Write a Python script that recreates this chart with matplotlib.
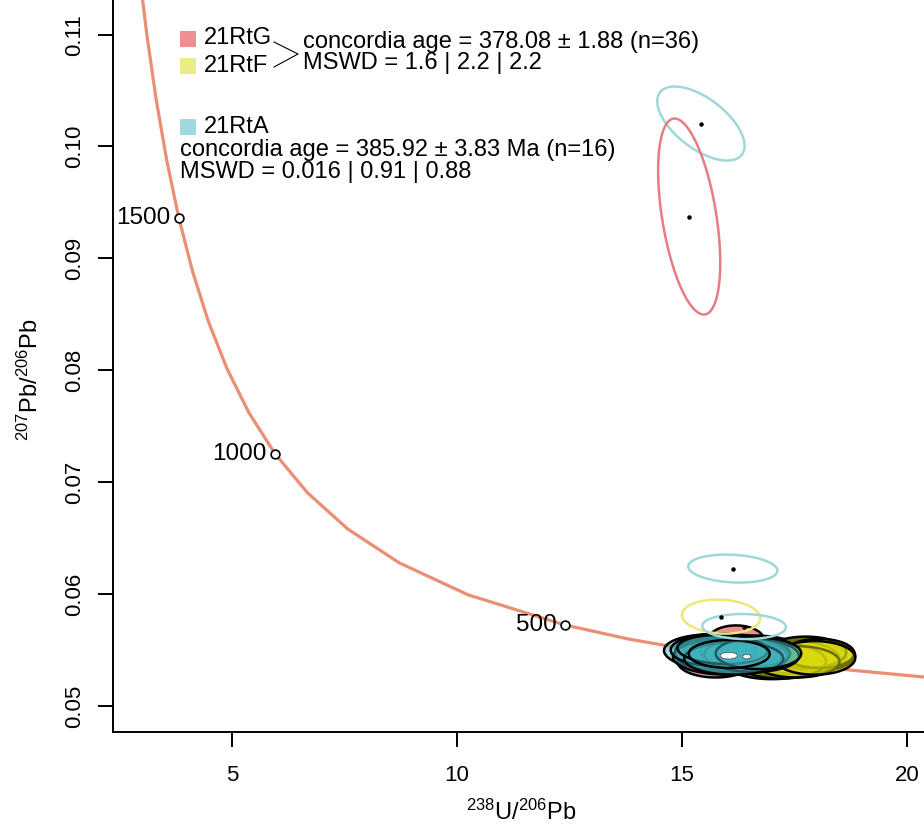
import numpy as np
import matplotlib
matplotlib.use("Agg")
import matplotlib.pyplot as plt
from matplotlib.patches import Rectangle
from matplotlib.lines import Line2D

plt.rcParams['font.family'] = ['Liberation Sans', 'DejaVu Sans']
plt.rcParams['mathtext.fontset'] = 'custom'
plt.rcParams['mathtext.rm'] = 'Liberation Sans'
plt.rcParams['mathtext.it'] = 'Liberation Sans:italic'

W, H = 924, 826

# concordia curve (Tera-Wasserburg)
conc_age = [300, 350, 400, 450, 500, 600, 700, 800, 900, 1000, 1100, 1200,
            1300, 1400, 1500, 1600, 1700, 1800, 1900]
conc_x = [20.99, 17.92, 15.62, 13.83, 12.40, 10.25, 8.718, 7.568, 6.674, 5.959,
          5.375, 4.888, 4.476, 4.123, 3.817, 3.550, 3.314, 3.105, 2.917]
conc_y = [0.05236, 0.05352, 0.05473, 0.05597, 0.05724, 0.05993, 0.06279, 0.06583,
          0.06907, 0.07253, 0.07622, 0.08016, 0.08436, 0.08885, 0.09364, 0.09876,
          0.10423, 0.11009, 0.11635]

tick_age = [500, 1000, 1500]
tick_x = [12.40, 5.959, 3.817]
tick_y = [0.05724, 0.07253, 0.09364]

# filled ellipses: centre x, centre y, half-width x, half-height y, rho
G_x = [16.20, 15.75, 16.00, 16.40, 16.80, 15.90, 17.10, 16.60]
G_y = [0.05590, 0.05400, 0.05460, 0.05440, 0.05410, 0.05490, 0.05430, 0.05480]
G_hx = [0.62, 0.85, 1.00, 1.00, 0.95, 1.05, 1.00, 1.10]
G_hy = [0.00130, 0.00145, 0.00155, 0.00145, 0.00145, 0.00160, 0.00145, 0.00150]
G_rho = [0.0, 0.0, -0.05, 0.0, 0.0, -0.05, 0.0, 0.0]

F_x = [17.00, 17.60, 17.85, 18.00, 17.40, 17.75, 17.20, 18.05, 17.55, 17.95]
F_y = [0.05370, 0.05440, 0.05460, 0.05450, 0.05420, 0.05480, 0.05400, 0.05470, 0.05395, 0.05430]
F_hx = [1.00, 1.05, 0.95, 0.85, 1.10, 0.90, 1.00, 0.78, 0.95, 0.90]
F_hy = [0.00130, 0.00155, 0.00145, 0.00135, 0.00165, 0.00140, 0.00155, 0.00130, 0.00140, 0.00150]
F_rho = [0.0, 0.0, -0.05, 0.0, 0.0, 0.0, 0.0, 0.0, 0.0, 0.0]

A_x = [15.75, 15.95, 16.10, 15.85, 16.25, 16.00, 16.40, 15.70, 16.55, 16.15, 15.90, 16.70, 16.05]
A_y = [0.05480, 0.05470, 0.05490, 0.05455, 0.05460, 0.05440, 0.05480, 0.05500, 0.05455,
       0.05425, 0.05505, 0.05470, 0.05465]
A_hx = [1.15, 1.10, 1.05, 1.00, 1.10, 1.20, 1.00, 0.95, 1.05, 1.10, 1.00, 0.95, 0.90]
A_hy = [0.00160, 0.00155, 0.00150, 0.00145, 0.00160, 0.00160, 0.00135, 0.00140, 0.00150,
        0.00145, 0.00130, 0.00140, 0.00125]
A_rho = [-0.1, -0.05, 0.0, -0.1, -0.1, 0.0, -0.1, 0.0, -0.05, 0.0, -0.1, 0.0, 0.0]

# rejected analyses (outline only, with centre dot)
out_x = [15.42, 15.16, 16.13, 15.87, 16.38]
out_y = [0.10205, 0.09374, 0.06228, 0.05799, 0.05710]
out_hx = [0.97, 0.69, 0.99, 0.87, 0.93]
out_hy = [0.00331, 0.00876, 0.00125, 0.00152, 0.00112]
out_rho = [-0.6, -0.47, -0.15, -0.1, -0.05]
out_col = ['#9ED8D8', '#E77C84', '#9ED8D8', '#E9E97A', '#9ED8D8']

# concordia age ellipses
age_x = [16.04, 16.44]
age_y = [0.05450, 0.05441]
age_hx = [0.19, 0.09]
age_hy = [0.00030, 0.00020]


def ell(x0, y0, hx, hy, rho, n=100):
    t = np.linspace(0, 2 * np.pi, n)
    return (x0 + hx * np.cos(t),
            y0 + hy * (rho * np.cos(t) + np.sqrt(1 - rho ** 2) * np.sin(t)))


def fp(px, py):
    return px / W, 1 - py / H


fig = plt.figure(figsize=(W / 100, H / 100), dpi=100)
ax = fig.add_axes([113 / W, (H - 732) / H, (W - 113) / W, 732 / H])
ax.set_xlim(2.356, 20.378)
ax.set_ylim(0.047677, 0.11309)

ax.plot(conc_x, conc_y, color='#EB8F74', lw=2.3, zorder=1)

groups = [(G_x, G_y, G_hx, G_hy, G_rho, (0.88, 0.12, 0.14, 0.5)),
          (F_x, F_y, F_hx, F_hy, F_rho, (0.85, 0.85, 0.05, 0.5)),
          (A_x, A_y, A_hx, A_hy, A_rho, (0.25, 0.70, 0.74, 0.5))]
z = 2
for xs, ys, hxs, hys, rhos, col in groups:
    for i in range(len(xs)):
        ex, ey = ell(xs[i], ys[i], hxs[i], hys[i], rhos[i])
        ax.fill(ex, ey, facecolor=col, edgecolor='black', lw=1.8, zorder=z)
    z += 1

for i in range(len(out_x)):
    ex, ey = ell(out_x[i], out_y[i], out_hx[i], out_hy[i], out_rho[i])
    ax.fill(ex, ey, facecolor='none', edgecolor=out_col[i], lw=1.8, zorder=6)
ax.scatter(out_x, out_y, s=5, color='black', zorder=7)

for i in range(len(age_x)):
    ex, ey = ell(age_x[i], age_y[i], age_hx[i], age_hy[i], 0.0)
    ax.fill(ex, ey, facecolor='white', edgecolor='#444444', lw=0.5, zorder=8)

ax.scatter(tick_x, tick_y, s=40, facecolor='white', edgecolor='black', lw=1.2, zorder=9)
for a, x, y in zip(tick_age, tick_x, tick_y):
    ax.annotate(str(a), (x, y), xytext=(-6, 0), textcoords='offset points',
                ha='right', va='center', fontsize=17.5)

ax.spines['top'].set_visible(False)
ax.spines['right'].set_visible(False)
for s in ['left', 'bottom']:
    ax.spines[s].set_linewidth(1.4)
ax.set_xticks([5, 10, 15, 20])
ax.set_xticklabels(['5', '10', '15', '20'])
ax.set_yticks([0.05, 0.06, 0.07, 0.08, 0.09, 0.10, 0.11])
ax.set_yticklabels(['0.05', '0.06', '0.07', '0.08', '0.09', '0.10', '0.11'],
                   rotation=90, va='center')
ax.tick_params(axis='both', length=11, width=1.4, labelsize=16)
ax.tick_params(axis='x', pad=13)
ax.tick_params(axis='y', pad=9)

fig.text(*fp(521, 812), r'$^{238}$U/$^{206}$Pb', ha='center', va='center', fontsize=17)
fig.text(*fp(30, 380), r'$^{207}$Pb/$^{206}$Pb', ha='center', va='center',
         rotation=90, fontsize=17)

# legend block
for py, col, name in [(38.5, '#F08F91', '21RtG'), (65.5, '#ECEC86', '21RtF'),
                      (127, '#9FD9DE', '21RtA')]:
    x0, y0 = fp(180, py + 8)
    fig.add_artist(Rectangle((x0, y0), 16 / W, 16 / H, transform=fig.transFigure,
                             facecolor=col, edgecolor='none'))
    fig.text(*fp(204, py), name, ha='left', va='center', fontsize=17)

bx = [fp(274, 42)[0], fp(298, 54)[0], fp(274, 67)[0]]
by = [fp(274, 42)[1], fp(298, 54)[1], fp(274, 67)[1]]
fig.add_artist(Line2D(bx, by, transform=fig.transFigure, color='black', lw=0.8))

fig.text(*fp(303, 42), 'concordia age = 378.08 ± 1.88 (n=36)', ha='left', va='center', fontsize=17)
fig.text(*fp(303, 63), 'MSWD = 1.6 | 2.2 | 2.2', ha='left', va='center', fontsize=17)
fig.text(*fp(180, 150), 'concordia age = 385.92 ± 3.83 Ma (n=16)', ha='left', va='center', fontsize=17)
fig.text(*fp(180, 172), 'MSWD = 0.016 | 0.91 | 0.88', ha='left', va='center', fontsize=17)

fig.savefig('out.png', dpi=100)
